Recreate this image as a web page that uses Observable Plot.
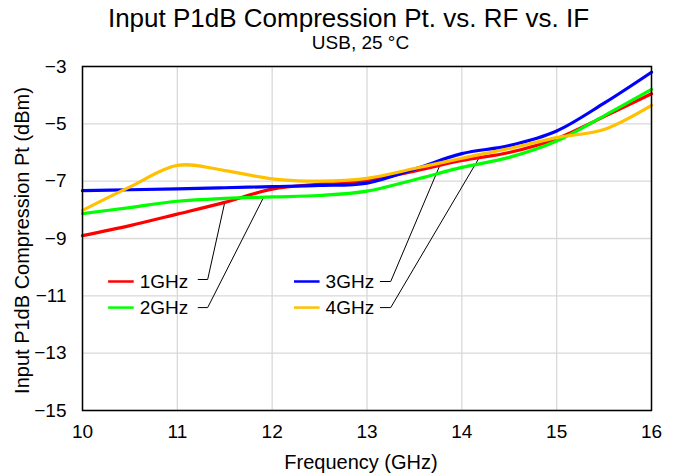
<!DOCTYPE html>
<html><head><meta charset="utf-8">
<script src="https://cdn.jsdelivr.net/npm/d3@7"></script>
<script src="https://cdn.jsdelivr.net/npm/@observablehq/plot@0.6"></script>
<style>
body{margin:0;background:#fff;font-family:"Liberation Sans",Arial,sans-serif;color:#000;}
#title{font-size:26px;line-height:29px;height:29px;padding-top:4px;text-align:center;padding-left:19px;white-space:nowrap;}
#subtitle{font-size:19px;line-height:19px;height:19px;text-align:center;padding-left:43px;white-space:nowrap;}
</style></head><body>
<div id="title">Input P1dB Compression Pt. vs. RF vs. IF</div>
<div id="subtitle">USB, 25 °C</div>
<div id="chart"></div>
<script>
const freq = [10, 10.5, 11, 11.5, 12, 12.5, 13, 13.5, 14, 14.5, 15, 15.5, 16];
const p1GHz = [-8.9, -8.55, -8.15, -7.74, -7.28, -7.1, -6.98, -6.65, -6.28, -6.0, -5.52, -4.75, -3.95];
const p2GHz = [-8.13, -7.92, -7.7, -7.6, -7.55, -7.5, -7.35, -6.95, -6.52, -6.17, -5.6, -4.72, -3.8];
const p3GHz = [-7.33, -7.3, -7.27, -7.23, -7.19, -7.15, -7.07, -6.58, -6.04, -5.76, -5.25, -4.28, -3.2];
const p4GHz = [-8.02, -7.2, -6.45, -6.63, -6.92, -7.0, -6.9, -6.56, -6.2, -5.86, -5.48, -5.2, -4.36];
const seriesNames = ["1GHz", "2GHz", "3GHz", "4GHz"];
const seriesColors = ["#ff0000", "#00ff00", "#0000ff", "#ffc000"];
const xTicks = [10, 11, 12, 13, 14, 15, 16];
const yTicks = [-15, -13, -11, -9, -7, -5, -3];
// legend annotation (data units)
const legendX1 = [10.27, 10.27, 12.23, 12.23];
const legendX2 = [10.54, 10.54, 12.5, 12.5];
const legendY = [-10.5, -11.41, -10.5, -11.41];
const leaderX = [[11.22, 11.32, 11.5], [11.22, 11.32, 11.91], [13.14, 13.25, 13.8], [13.14, 13.25, 14.18]];
const leaderY = [[-10.43, -10.43, -7.74], [-11.41, -11.41, -7.56], [-10.5, -10.5, -6.2], [-11.41, -11.41, -6.2]];

const values = [p1GHz, p2GHz, p3GHz, p4GHz];
const data = seriesNames.flatMap((s, i) => freq.map((f, j) => ({s, f, v: values[i][j]})));
const legend = seriesNames.map((s, i) => ({s, x1: legendX1[i], x2: legendX2[i], y: legendY[i]}));
const leaders = seriesNames.flatMap((s, i) => leaderX[i].map((x, j) => ({s, x, y: leaderY[i][j]})));

const chart = Plot.plot({
  width: 678, height: 423,
  marginTop: 14, marginLeft: 82, marginRight: 27, marginBottom: 65,
  style: {fontFamily: "Liberation Sans, Arial, sans-serif", fontSize: "18px", color: "#000", background: "#fff"},
  x: {domain: [10, 16]},
  y: {domain: [-15, -3]},
  color: {domain: seriesNames, range: seriesColors},
  marks: [
    Plot.gridX(xTicks, {stroke: "#d9d9d9", strokeOpacity: 1, strokeWidth: 1.3}),
    Plot.gridY(yTicks, {stroke: "#d9d9d9", strokeOpacity: 1, strokeWidth: 1.3}),
    Plot.line(leaders, {x: "x", y: "y", z: "s", stroke: "#000", strokeWidth: 1}),
    Plot.line(data, {x: "f", y: "v", z: "s", stroke: "s", strokeWidth: 3.2, curve: "cardinal", tension: 0}),
    Plot.link(legend, {x1: "x1", x2: "x2", y1: "y", y2: "y", stroke: "s", strokeWidth: 2.5}),
    Plot.text(legend, {x: "x2", y: "y", text: "s", dx: 6, textAnchor: "start", fontSize: 19}),
    Plot.frame({stroke: "#000", strokeWidth: 1.5}),
    Plot.axisX(xTicks, {tickSize: 0, tickPadding: 14, fontSize: 19, label: null}),
    Plot.axisY(yTicks, {tickSize: 0, tickPadding: 16, fontSize: 19, label: null}),
    Plot.text(["Frequency (GHz)"], {frameAnchor: "bottom", dy: 58, dx: -6, fontSize: 20}),
    Plot.text(["Input P1dB Compression Pt (dBm)"], {frameAnchor: "left", textAnchor: "middle", dx: -60, dy: 2, rotate: -90, fontSize: 20})
  ]
});
document.getElementById("chart").appendChild(chart);
</script>
</body></html>
